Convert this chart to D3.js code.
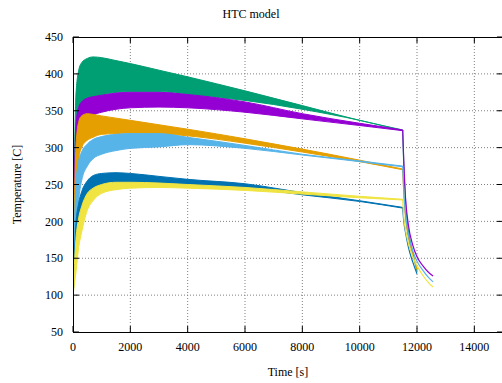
<!DOCTYPE html>
<html><head><meta charset="utf-8">
<script src="https://cdn.jsdelivr.net/npm/d3@7"></script>
<style>body{margin:0;background:#fff}svg{display:block}text{font-family:"Liberation Serif","DejaVu Serif",serif;font-size:12px;fill:#000}</style>
</head><body><svg id="c" width="502" height="383"></svg>
<script>
// ---- data ----
const seriesNames = ["s1","s2","s3","s4","s5","s6"];
const seriesColors = ["#009e73","#9400d3","#e69f00","#56b4e9","#0072b2","#f0e442"];
const tHeat = [0,100,200,300,500,700,1000,1500,2000,3000,4000,6000,8000,10000,11500];
const upperS1 = [100,370,405,415,421,423,422,418,414,405,396,377,357,337,324];
const lowerS1 = [100,220,320,345,360,366,371,375,376,376,372,364,352,337,323];
const upperS2 = [100,330,355,362,367,369,371,374,375,375,372,362,346,333,324];
const lowerS2 = [100,220,300,325,338,344,348,352,354,355,354,348,339,330,323];
const upperS3 = [100,300,335,343,346,345,343,340,337,331,325,312,298,283,271];
const lowerS3 = [100,230,285,300,310,314,318,319,320,319,316,306,294,281,270];
const upperS4 = [100,250,282,294,305,311,315,318,319,319,314,303,291,282,275];
const lowerS4 = [100,180,230,255,275,285,291,296,299,301,304,299,290,281,274];
const upperS5 = [100,195,225,240,255,262,265,266,265,261,257,251,239,228,219];
const lowerS5 = [100,145,185,210,232,242,248,250,252,252,250,246,236,227,218];
const upperS6 = [100,175,205,220,238,245,250,253,253,252,250,246,240,234,230];
const lowerS6 = [100,130,165,185,215,228,238,243,245,246,245,242,237,232,229];
const tCool = [11500,11540,11600,11700,11850,12000,12200,12400,12560];
const coolS1 = [324,275,225,188,158,133,null,null,null];
const coolS2 = [324,280,232,195,168,152,140,131,126];
const coolS3 = [270,238,205,178,155,135,null,null,null];
const coolS4 = [275,240,210,182,160,146,134,124,118];
const coolS5 = [219,200,185,165,145,129,null,null,null];
const coolS6 = [230,205,188,170,152,140,127,117,111];
const xTicks = [0,2000,4000,6000,8000,10000,12000,14000];
const yTicks = [50,100,150,200,250,300,350,400,450];
const uppers=[upperS1,upperS2,upperS3,upperS4,upperS5,upperS6];
const lowers=[lowerS1,lowerS2,lowerS3,lowerS4,lowerS5,lowerS6];
const cools=[coolS1,coolS2,coolS3,coolS4,coolS5,coolS6];

// ---- layout ----
const L=73,R=503,T=37,B=332;
const svg=d3.select("#c");
const x=d3.scaleLinear().domain([0,15000]).range([L,R]);
const y=d3.scaleLinear().domain([50,450]).range([B,T]);

// grid
const g=svg.append("g");
xTicks.forEach(v=>{ if(v>0) g.append("line").attr("x1",x(v)).attr("x2",x(v)).attr("y1",T).attr("y2",B)
  .attr("stroke","#808080").attr("stroke-width",1).attr("stroke-dasharray","1,2");});
yTicks.forEach(v=>{ if(v>50&&v<450) g.append("line").attr("x1",L).attr("x2",R).attr("y1",y(v)).attr("y2",y(v))
  .attr("stroke","#808080").attr("stroke-width",1).attr("stroke-dasharray","1,2");});

// series
svg.append("clipPath").attr("id","pc").append("rect").attr("x",L).attr("y",T).attr("width",R-L).attr("height",B-T);
const pg=svg.append("g").attr("clip-path","url(#pc)");
seriesNames.forEach((n,i)=>{
  const d=tHeat.map((t,k)=>({t,u:uppers[i][k],l:lowers[i][k]}));
  const area=d3.area().x(p=>x(p.t)).y0(p=>y(p.l)).y1(p=>y(p.u)).curve(d3.curveMonotoneX);
  pg.append("path").attr("d",area(d)).attr("fill",seriesColors[i]).attr("stroke",seriesColors[i]).attr("stroke-width",1);
  const c=tCool.map((t,k)=>({t,v:cools[i][k]})).filter(p=>p.v!==null);
  const line=d3.line().x(p=>x(p.t)).y(p=>y(p.v)).curve(d3.curveMonotoneX);
  pg.append("path").attr("d",line(c)).attr("fill","none").attr("stroke",seriesColors[i]).attr("stroke-width",1.2);
});

// axes frame and ticks
const ax=svg.append("g").attr("stroke","#000").attr("stroke-width",1);
ax.append("rect").attr("x",L+0.5).attr("y",T+0.5).attr("width",R-L-1).attr("height",B-T).attr("fill","none");
xTicks.forEach(v=>{
  ax.append("line").attr("x1",x(v)).attr("x2",x(v)).attr("y1",B).attr("y2",B-6);
  ax.append("line").attr("x1",x(v)).attr("x2",x(v)).attr("y1",T).attr("y2",T+6);
});
yTicks.forEach(v=>{
  ax.append("line").attr("x1",L).attr("x2",L+6).attr("y1",y(v)).attr("y2",y(v));
  ax.append("line").attr("x1",R-6).attr("x2",R).attr("y1",y(v)).attr("y2",y(v));
});
yTicks.forEach(v=>svg.append("text").attr("x",L-10).attr("y",y(v)).attr("dy","0.35em").attr("text-anchor","end").text(v));
xTicks.forEach(v=>svg.append("text").attr("x",x(v)).attr("y",B+15).attr("dy","0.35em").attr("text-anchor","middle").text(v));

svg.append("text").attr("x",251).attr("y",18).attr("text-anchor","middle").text("HTC model");
svg.append("text").attr("x",(L+R)/2).attr("y",376).attr("text-anchor","middle").text("Time [s]");
svg.append("text").attr("transform",`translate(21,${(T+B)/2}) rotate(-90)`).attr("text-anchor","middle").text("Temperature [C]");
</script></body></html>
